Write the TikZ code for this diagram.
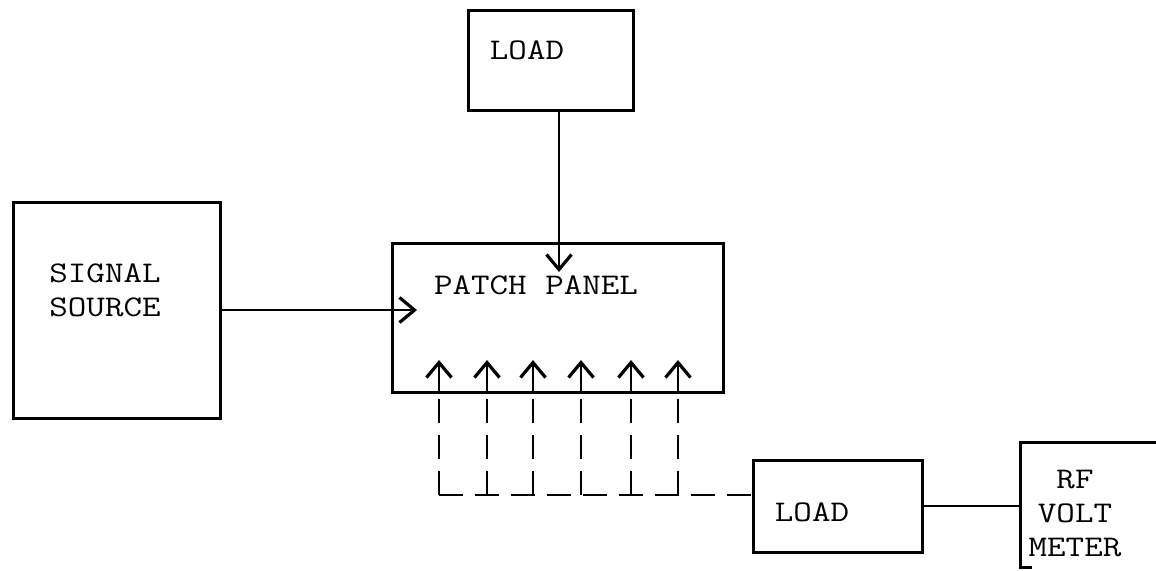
\documentclass[tikz,border=0pt]{standalone}
\usepackage{fontspec}
\setmonofont{Latin Modern Mono}[FakeStretch=1.2]
\usepackage{tikz}
\usetikzlibrary{arrows.meta}

\tikzset{
    block/.style={draw, line width=1.5pt, inner sep=0pt},
    txt/.style={font=\ttfamily\fontsize{15}{17}\selectfont, align=left, inner sep=0pt},
    wire/.style={line width=1pt},
    feed/.style={wire, -{Straight Barb[length=7.5pt, width=12.5pt, line width=1.6pt]}},
    bus/.style={wire, dash pattern=on 12pt off 6pt},
}

\begin{document}
\begin{tikzpicture}[x=0.5pt, y=-0.5pt]
    \useasboundingbox (0,0) rectangle (1156,570);

    % Boxes
    \node[block, minimum width=82.5pt, minimum height=50pt] (loadtop) at (550.5,60) {};
    \node[block, minimum width=103.5pt, minimum height=108pt] (source) at (116.5,310) {};
    \node[block, minimum width=165.5pt, minimum height=74.5pt] (panel) at (557.5,317.5) {};
    \node[block, minimum width=84.5pt, minimum height=46pt] (loadlow) at (837.5,506) {};

    % RF volt meter, open to the right
    \coordinate (rfw) at (1020,505);
    \draw[block] (1156,442) -- (1020,442) -- (1020,567) -- (1032,567);

    % Labels
    \node[txt] (loadtop-t) at (527,50) {LOAD};
    \node[txt] (source-t) at (105,290) {SIGNAL\\SOURCE};
    \node[txt] (panel-t) at (536,285) {PATCH PANEL};
    \node[txt] (loadlow-t) at (812,512) {LOAD};
    \node[txt, align=center] (rf-t) at (1075,513) {RF\\VOLT\\METER};

    % Inputs to the patch panel
    \coordinate (pin) at (417,310);
    \coordinate (ptop) at (559,272);
    \draw[feed] (source.east) -- (pin);
    \draw[feed] (loadtop.south -| ptop) -- (ptop);

    % Patch leads from the lower load
    \coordinate (busend) at (439,495);
    \foreach \x in {439,487,533,581,631,678} {
        \draw[feed] (\x,392) -- (\x,360);
        \draw[bus] (\x,495) -- (\x,392);
    }
    \draw[bus] (busend) -- (busend -| loadlow.west);

    % Lower load to the meter
    \draw[wire] (loadlow.east) -- (loadlow.east -| rfw);
\end{tikzpicture}
\end{document}
